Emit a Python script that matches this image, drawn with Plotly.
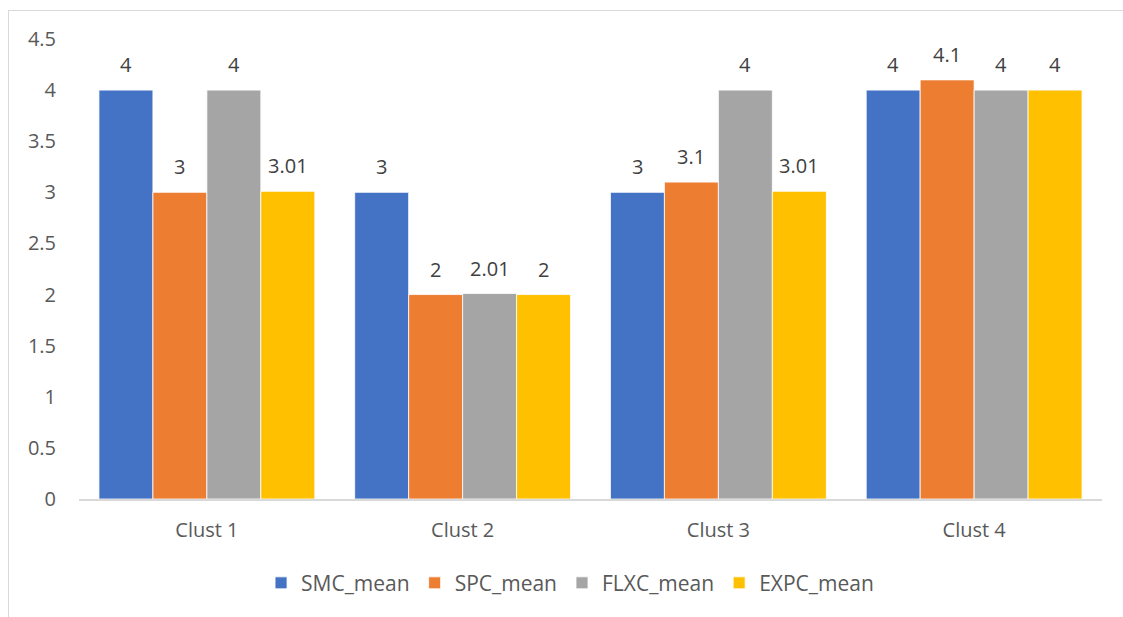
import plotly.graph_objects as go

categories = ["Clust 1", "Clust 2", "Clust 3", "Clust 4"]
series_names = ["SMC_mean", "SPC_mean", "FLXC_mean", "EXPC_mean"]
smc = [4, 3, 3, 4]
spc = [3, 2, 3.1, 4.1]
flxc = [4, 2.01, 4, 4]
expc = [3.01, 2, 3.01, 4]
labels = [
    ["4", "3", "3", "4"],
    ["3", "2", "3.1", "4.1"],
    ["4", "2.01", "4", "4"],
    ["3.01", "2", "3.01", "4"],
]
colors = ["#4472C4", "#ED7D31", "#A5A5A5", "#FFC000"]
yticks = [0, 0.5, 1, 1.5, 2, 2.5, 3, 3.5, 4, 4.5]
ytick_text = ["0", "0.5", "1", "1.5", "2", "2.5", "3", "3.5", "4", "4.5"]

values = [smc, spc, flxc, expc]
FONT = "Open Sans"
TXT = "#595959"
BARGAP = 0.156

fig = go.Figure()
for name, vals, col in zip(series_names, values, colors):
    fig.add_trace(go.Bar(
        name=name, x=categories, y=vals,
        marker=dict(color=col, line=dict(color="rgba(255,255,255,0.8)", width=1)),
        hoverinfo="skip",
    ))

# data labels as annotations above each bar (category axis numeric index positions)
n = len(series_names)
w = (1 - BARGAP) / n
annotations = []
for j, (vals, labs) in enumerate(zip(values, labels)):
    for i, (v, t) in enumerate(zip(vals, labs)):
        xpos = i - (1 - BARGAP) / 2 + w * (j + 0.5)
        annotations.append(dict(
            x=xpos, y=v, xref="x", yref="y", text=t, showarrow=False,
            yanchor="bottom", yshift=10,
            font=dict(family=FONT, size=20, color="#404040"),
        ))

shapes = [
    # chart area border (left and top visible)
    dict(type="line", xref="paper", yref="paper", xsizemode="pixel", ysizemode="pixel",
         xanchor=0, yanchor=1, x0=-70.5, x1=-70.5, y0=28.5, y1=-600,
         line=dict(color="#d9d9d9", width=1)),
    dict(type="line", xref="paper", yref="paper", xsizemode="pixel", ysizemode="pixel",
         xanchor=0, yanchor=1, x0=-71, x1=1060, y0=28.5, y1=28.5,
         line=dict(color="#d9d9d9", width=1)),
]

fig.update_layout(
    width=1123, height=617,
    margin=dict(l=79, r=21, t=39, b=118),
    paper_bgcolor="white", plot_bgcolor="white",
    barmode="group", bargap=BARGAP, bargroupgap=0,
    font=dict(family=FONT, size=20, color=TXT),
    showlegend=True,
    legend=dict(orientation="h", x=0.480, xanchor="center", y=-0.183, yanchor="middle",
                font=dict(family=FONT, size=21, color=TXT), itemwidth=30),
    annotations=annotations,
    shapes=shapes,
)
fig.update_xaxes(
    type="category", showgrid=False, showline=True, linecolor="#d9d9d9", linewidth=1.5,
    ticks="", tickfont=dict(family=FONT, size=20, color=TXT), ticklabelstandoff=12,
)
fig.update_yaxes(
    range=[0, 4.5], tickvals=yticks, ticktext=ytick_text, showgrid=False,
    zeroline=False, showline=False, ticks="",
    tickfont=dict(family=FONT, size=20, color=TXT), ticklabelstandoff=22,
)

fig.write_html("out.html")
